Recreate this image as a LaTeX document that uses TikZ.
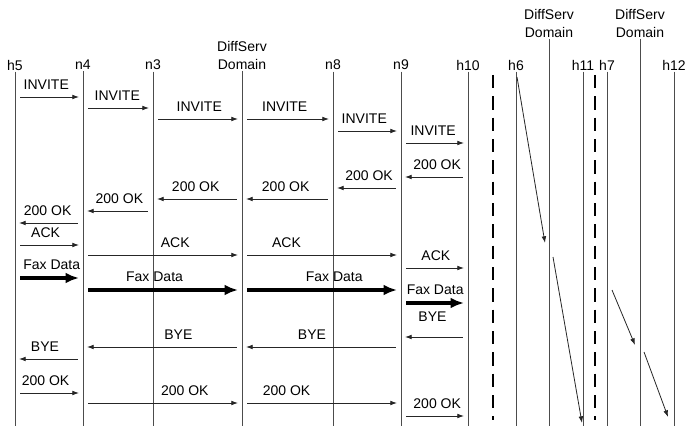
\documentclass[tikz,border=0pt]{standalone}
\usepackage{fontspec}
\setmainfont{Liberation Sans}
\usetikzlibrary{arrows.meta,calc}

\begin{document}
\begin{tikzpicture}[
      x=0.75pt, y=-0.75pt,
      >=Latex,
      head/.style={font=\fontsize{10.5}{12.8}\selectfont, inner sep=1pt, align=center},
      life/.style={black!70, line width=0.6pt},
      border/.style={line width=1.8pt, dash pattern=on 10pt off 6pt},
      msg/.style={->, black!85, line width=0.6pt, shorten <=4pt, shorten >=3pt,
        >={Latex[length=5pt,width=3.5pt]}},
      fax/.style={msg, black, line width=2.6pt, >={Latex[length=10pt,width=8pt]}},
      diag/.style={msg, shorten <=0pt, shorten >=0pt},
      lbl/.style={font=\fontsize{10.5}{12.8}\selectfont, above=4pt, inner sep=1pt, text=black}
    ]
    \useasboundingbox (0,0) rectangle (685,428);

    % lifeline heads
    \node[head] (h5) at (15,65) {h5};
    \node[head] (n4) at (83,65) {n4};
    \node[head] (n3) at (153,65) {n3};
    \node[head] (ds1) at (242,55.5) {DiffServ\\Domain};
    \node[head] (n8) at (333,65) {n8};
    \node[head] (n9) at (401,65) {n9};
    \node[head] (h10) at (468,65) {h10};
    \node[head] (h6) at (516,65) {h6};
    \node[head] (ds2) at (549,23.5) {DiffServ\\Domain};
    \node[head] (h11) at (583,65) {h11};
    \node[head] (h7) at (607,65) {h7};
    \node[head] (ds3) at (640,23.5) {DiffServ\\Domain};
    \node[head] (h12) at (674,65) {h12};

    \foreach \p in {h5,n4,n3,ds1,n8,n9,h10,h6,ds2,h11,h7,ds3,h12}
      \draw[life] (\p.south) -- (\p.south |- 0,426);

    % network borders
    \coordinate (b1top) at (493,75);
    \coordinate (b1bot) at (493,420);
    \coordinate (b2top) at (595,75);
    \coordinate (b2bot) at (595,420);
    \draw[border] (b1top) -- (b1bot);
    \draw[border] (b2top) -- (b2bot);

    % call setup
    \draw[msg] (h5 |- 0,97) -- node[lbl, pos=.46] (m1) {INVITE} (n4 |- 0,97);
    \draw[msg] (n4 |- 0,108) -- node[lbl, pos=.49] (m2) {INVITE} (n3 |- 0,108);
    \draw[msg] (n3 |- 0,119) -- node[lbl, pos=.52] (m3) {INVITE} (ds1 |- 0,119);
    \draw[msg] (ds1 |- 0,119) -- node[lbl, pos=.47] (m4) {INVITE} (n8 |- 0,119);
    \draw[msg] (n8 |- 0,131) -- node[lbl, pos=.46] (m5) {INVITE} (n9 |- 0,131);
    \draw[msg] (n9 |- 0,143) -- node[lbl, pos=.48] (m6) {INVITE} (h10 |- 0,143);

    \draw[msg] (h10 |- 0,177) -- node[lbl, pos=.46] (m7) {200 OK} (n9 |- 0,177);
    \draw[msg] (n9 |- 0,188) -- node[lbl, pos=.47] (m8) {200 OK} (n8 |- 0,188);
    \draw[msg] (n8 |- 0,199) -- node[lbl, pos=.52] (m9) {200 OK} (ds1 |- 0,199);
    \draw[msg] (ds1 |- 0,199) -- node[lbl, pos=.52] (m10) {200 OK} (n3 |- 0,199);
    \draw[msg] (n3 |- 0,211) -- node[lbl, pos=.48] (m11) {200 OK} (n4 |- 0,211);
    \draw[msg] (n4 |- 0,223) -- node[lbl, pos=.52] (m12) {200 OK} (h5 |- 0,223);

    \draw[msg] (h5 |- 0,245) -- node[lbl, pos=.45] (m13) {ACK} (n4 |- 0,245);
    \draw[msg] (n4 |- 0,255) -- node[lbl, pos=.58] (m14) {ACK} (ds1 |- 0,255);
    \draw[msg] (ds1 |- 0,255) -- node[lbl, pos=.28] (m15) {ACK} (n9 |- 0,255);
    \draw[msg] (n9 |- 0,268) -- node[lbl, pos=.52] (m16) {ACK} (h10 |- 0,268);

    % fax transfer
    \draw[fax] (h5 |- 0,278) -- node[lbl, pos=.54] (f1) {Fax Data} (n4 |- 0,278);
    \draw[fax] (n4 |- 0,290) -- node[lbl, pos=.45] (f2) {Fax Data} (ds1 |- 0,290);
    \draw[fax] (ds1 |- 0,290) -- node[lbl, pos=.58] (f3) {Fax Data} (n9 |- 0,290);
    \draw[fax] (n9 |- 0,303) -- node[lbl, pos=.51] (f4) {Fax Data} (h10 |- 0,303);

    % release
    \draw[msg] (h10 |- 0,337) -- node[lbl, pos=.53, above=6.5pt] (m17) {BYE} (n9 |- 0,337);
    \draw[msg] (n9 |- 0,347) -- node[lbl, pos=.56] (m18) {BYE} (ds1 |- 0,347);
    \draw[msg] (ds1 |- 0,347) -- node[lbl, pos=.40] (m19) {BYE} (n4 |- 0,347);
    \draw[msg] (n4 |- 0,359) -- node[lbl, pos=.56] (m20) {BYE} (h5 |- 0,359);

    \draw[msg] (h5 |- 0,393) -- node[lbl, pos=.45] (m21) {200 OK} (n4 |- 0,393);
    \draw[msg] (n4 |- 0,403) -- node[lbl, pos=.64] (m22) {200 OK} (ds1 |- 0,403);
    \draw[msg] (ds1 |- 0,403) -- node[lbl, pos=.28] (m23) {200 OK} (n9 |- 0,403);
    \draw[msg] (n9 |- 0,416) -- node[lbl, pos=.54] (m24) {200 OK} (h10 |- 0,416);

    % remote domains
    \coordinate (a1) at (517,77);
    \coordinate (a2) at (545,243);
    \coordinate (c1) at (553,257);
    \coordinate (c2) at (582,423);
    \coordinate (d1) at (612,290);
    \coordinate (d2) at (635,345);
    \coordinate (e1) at (644,352);
    \coordinate (e2) at (668,417);
    \draw[diag] (a1) -- (a2);
    \draw[diag] (c1) -- (c2);
    \draw[diag] (d1) -- (d2);
    \draw[diag] (e1) -- (e2);
  \end{tikzpicture}
\end{document}
